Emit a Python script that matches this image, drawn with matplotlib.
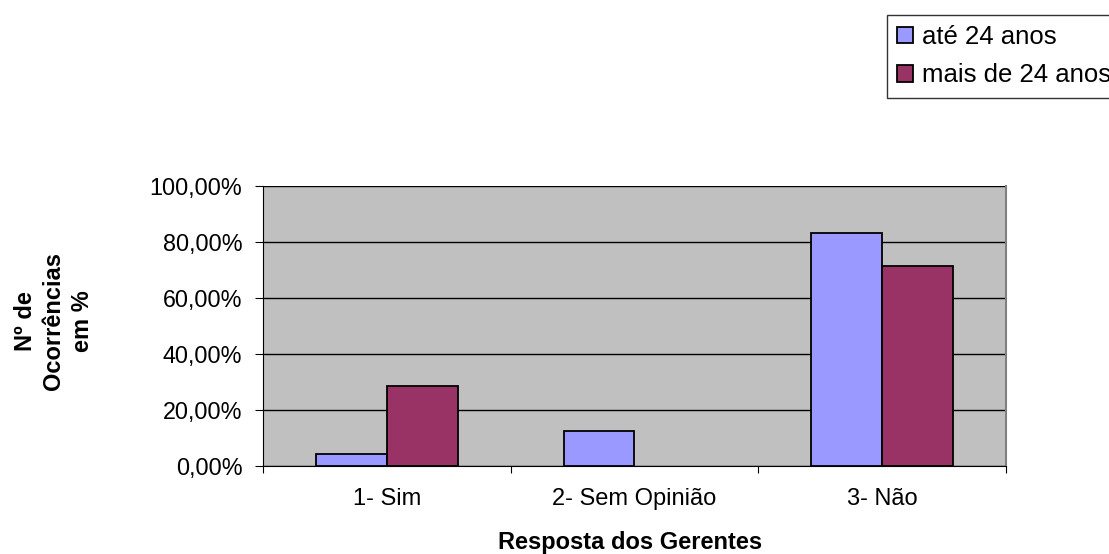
import matplotlib
matplotlib.use("Agg")
import matplotlib.pyplot as plt
import numpy as np
from matplotlib.ticker import FuncFormatter

categories = ["1- Sim", "2- Sem Opinião", "3- Não"]
series_names = ["até 24 anos", "mais de 24 anos"]
ate_24 = [4.17, 12.50, 83.33]
mais_24 = [28.57, 0.0, 71.43]
y_ticks = [0, 20, 40, 60, 80, 100]

colors = ["#9999FF", "#993366"]

plt.rcParams["font.family"] = ["Liberation Sans", "DejaVu Sans"]

fig = plt.figure(figsize=(11.09, 5.54), dpi=100)
ax = fig.add_axes([263 / 1109, 88 / 554, 743 / 1109, 280 / 554])
ax.set_facecolor("#C0C0C0")

x = np.arange(len(categories))
w = 1 / 3.5
b1 = ax.bar(x - w / 2, ate_24, w, color=colors[0], edgecolor="black", linewidth=1.3, zorder=3, label=series_names[0])
b2 = ax.bar(x + w / 2, mais_24, w, color=colors[1], edgecolor="black", linewidth=1.3, zorder=3, label=series_names[1])
# empty categories get no outline
for container in (b1, b2):
    for patch in container:
        if patch.get_height() == 0:
            patch.set_linewidth(0)

ax.set_xlim(-0.5, 2.5)
ax.set_ylim(0, 100)
ax.set_yticks(y_ticks)
ax.yaxis.set_major_formatter(FuncFormatter(lambda v, p: f"{v:.2f}%".replace(".", ",")))
ax.yaxis.grid(True, color="black", linewidth=1.0, zorder=1)
ax.set_axisbelow(True)

ax.set_xticks([-0.5, 0.5, 1.5, 2.5], minor=False)
ax.set_xticklabels([])
ax.set_xticks(x, minor=True)
ax.set_xticklabels(categories, minor=True, fontsize=17)
ax.tick_params(axis="x", which="minor", length=0, pad=16)
ax.tick_params(axis="x", which="major", length=5, direction="out", color="black")
ax.tick_params(axis="y", length=5.8, direction="out", labelsize=16.8, pad=9)

ax.spines["top"].set_visible(False)
ax.spines["right"].set_color("#808080")
ax.spines["right"].set_linewidth(1.5)
ax.spines["left"].set_color("black")
ax.spines["bottom"].set_color("black")

fig.text(630 / 1109, 1 - 543 / 554, "Resposta dos Gerentes", ha="center", va="center",
         fontsize=17, fontweight="bold")
fig.text(54 / 1109, 1 - 321 / 554, "Nº de\nOcorrências\nem %", ha="center", va="center",
         rotation=90, fontsize=17, fontweight="bold", linespacing=1.33)

leg = fig.legend(handles=[b1, b2], labels=series_names, loc="upper left",
                 bbox_to_anchor=(887 / 1109, 1 - 15 / 554), fontsize=18.5,
                 frameon=True, fancybox=False, edgecolor="black", borderpad=0.4,
                 borderaxespad=0, handlelength=0.6, handleheight=0.6,
                 handletextpad=0.35, labelspacing=0.55)
leg.get_frame().set_linewidth(1.0)

fig.savefig("out.png", dpi=100)
